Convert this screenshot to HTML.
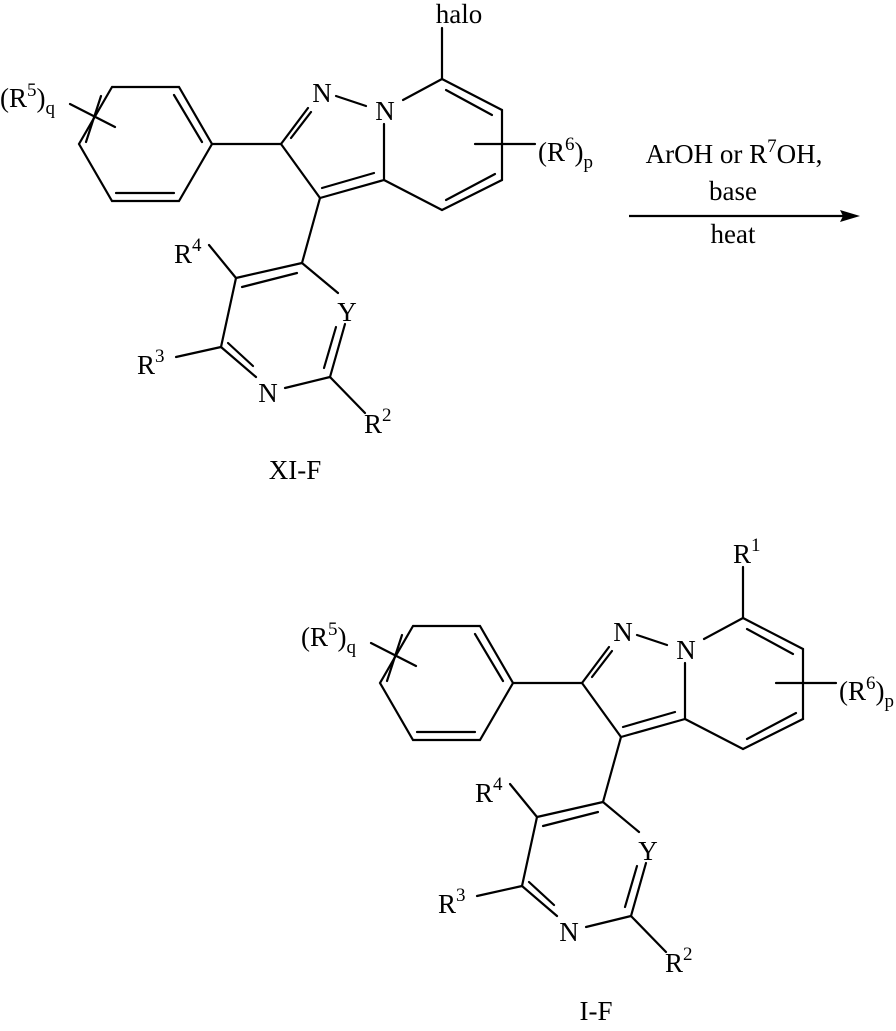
<!DOCTYPE html>
<html><head><meta charset="utf-8"><style>
html,body{margin:0;padding:0;background:#fff;}
svg{display:block;}
text{font-family:"Liberation Serif",serif;font-size:27px;fill:#000;}
.s{font-size:19px;}
</style></head><body>
<svg width="896" height="1031" viewBox="0 0 896 1031" xmlns="http://www.w3.org/2000/svg">
<defs>
<g id="mol" stroke="#000" stroke-width="2.2" fill="none" stroke-linecap="round">
<polyline points="112,87 179,87 212,144 179,201 112,201 79,144 112,87"/>
<line x1="101" y1="96" x2="86" y2="142"/>
<line x1="174" y1="95" x2="202" y2="142"/>
<line x1="116" y1="193" x2="174" y2="193"/>
<line x1="70" y1="104" x2="115" y2="127"/>
<line x1="212" y1="144" x2="281" y2="144"/>
<line x1="281" y1="144" x2="308" y2="108"/>
<line x1="291" y1="138" x2="311" y2="112"/>
<line x1="336" y1="96" x2="366" y2="106"/>
<line x1="384" y1="124" x2="384" y2="180"/>
<line x1="384" y1="180" x2="320" y2="198"/>
<line x1="322" y1="188" x2="374" y2="173"/>
<line x1="281" y1="144" x2="320" y2="198"/>
<line x1="320" y1="198" x2="302" y2="263"/>
<line x1="403" y1="100" x2="442" y2="79"/>
<line x1="442" y1="79" x2="442" y2="28"/>
<line x1="442" y1="79" x2="502" y2="110"/>
<line x1="446" y1="90" x2="492" y2="115"/>
<line x1="502" y1="110" x2="502" y2="180"/>
<line x1="502" y1="180" x2="442" y2="210"/>
<line x1="495" y1="174" x2="446" y2="200"/>
<line x1="442" y1="210" x2="384" y2="180"/>
<line x1="475" y1="144" x2="535" y2="144"/>
<line x1="302" y1="263" x2="236" y2="278"/>
<line x1="242" y1="287" x2="297" y2="273"/>
<line x1="236" y1="278" x2="209" y2="245"/>
<line x1="302" y1="263" x2="338" y2="293"/>
<line x1="345" y1="324" x2="330" y2="377"/>
<line x1="336" y1="327" x2="324" y2="368"/>
<line x1="330" y1="377" x2="285" y2="388"/>
<line x1="330" y1="377" x2="365" y2="413"/>
<line x1="256" y1="377" x2="221" y2="347"/>
<line x1="253" y1="366" x2="228" y2="343"/>
<line x1="221" y1="347" x2="236" y2="278"/>
<line x1="221" y1="347" x2="176" y2="357"/>
</g>
<g id="lab">
<text x="0" y="107">(R<tspan class="s" dy="-11">5</tspan><tspan dy="11">)</tspan><tspan class="s" dy="7">q</tspan></text>
<text x="322" y="102" text-anchor="middle">N</text>
<text x="385" y="120" text-anchor="middle">N</text>
<text x="538" y="161">(R<tspan class="s" dy="-11">6</tspan><tspan dy="11">)</tspan><tspan class="s" dy="7">p</tspan></text>
<text x="174" y="263">R<tspan class="s" dy="-12">4</tspan></text>
<text x="347" y="321" text-anchor="middle">Y</text>
<text x="137" y="374">R<tspan class="s" dy="-12">3</tspan></text>
<text x="268" y="402" text-anchor="middle">N</text>
<text x="364" y="433">R<tspan class="s" dy="-12">2</tspan></text>
</g>
</defs>
<use href="#mol"/>
<use href="#lab"/>
<text x="459" y="23" text-anchor="middle">halo</text>
<text x="295" y="479" text-anchor="middle">XI-F</text>
<g transform="translate(301,539)">
<use href="#mol"/>
<use href="#lab"/>
</g>
<text x="733" y="563">R<tspan class="s" dy="-12">1</tspan></text>
<text x="596" y="1020" text-anchor="middle">I-F</text>
<line x1="629" y1="216" x2="845" y2="216" stroke="#000" stroke-width="2.2"/>
<polygon points="860,216 840,210 843,216 840,222" fill="#000"/>
<text x="734" y="163" text-anchor="middle">ArOH or R<tspan class="s" dy="-11">7</tspan><tspan dy="11">OH,</tspan></text>
<text x="733" y="200" text-anchor="middle">base</text>
<text x="733" y="243" text-anchor="middle">heat</text>
</svg>
</body></html>
